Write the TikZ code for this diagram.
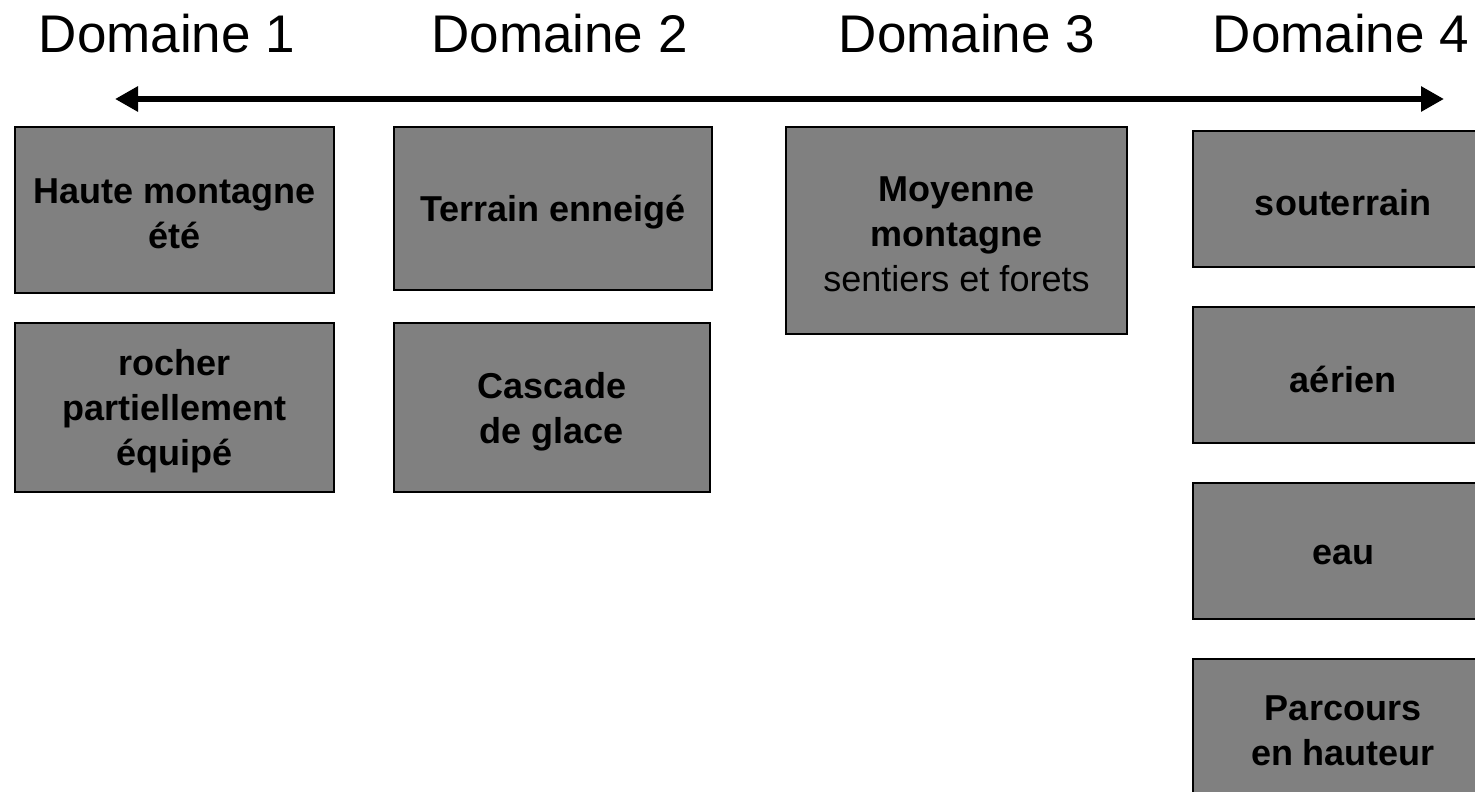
\documentclass[tikz,border=0pt]{standalone}
\usepackage{fontspec}
\setmainfont{Liberation Sans}
\usetikzlibrary{arrows.meta}
\definecolor{boxgray}{HTML}{808080}
\tikzset{
  domtitle/.style={anchor=base, inner sep=0pt, font=\fontsize{53}{60}\selectfont},
  graybox/.style={draw=black, line width=1.6pt, fill=boxgray, rectangle, inner sep=0pt},
  boxtext/.style={inner sep=0pt, align=center, yshift=-4pt, font=\fontsize{36}{45}\selectfont\bfseries},
  scalearrow/.style={line width=6pt, {Triangle[length=23pt,width=24pt]}-{Triangle[length=23pt,width=24pt]}}
}
\begin{document}
\begin{tikzpicture}[x=1pt,y=-1pt]
\useasboundingbox[fill=white] (0,0) rectangle (1475,792);
% titles
\node[domtitle] (d1) at (167,53) {Domaine 1};
\node[domtitle] (d2) at (559.5,53) {Domaine 2};
\node[domtitle] (d3) at (967,53) {Domaine 3};
\node[domtitle] (d4) at (1341,53) {Domaine 4};
% arrow
\coordinate (aL) at (115,99);
\coordinate (aR) at (1444,99);
\draw[scalearrow] (aL) -- (aR);
% boxes column 1
\node[graybox, minimum width=319pt, minimum height=166pt] (b1) at (174.5,210) {};
\node[boxtext] (t1) at (b1.center) {Haute montagne\\été};
\node[graybox, minimum width=319pt, minimum height=169pt] (b2) at (174.5,407.5) {};
\node[boxtext] (t2) at (b2.center) {rocher\\partiellement\\équipé};
% column 2
\node[graybox, minimum width=318pt, minimum height=163pt] (b3) at (553,208.5) {};
\node[boxtext] (t3) at (b3.center) {Terrain enneigé};
\node[graybox, minimum width=316pt, minimum height=169pt] (b4) at (552,407.5) {};
\node[boxtext] (t4) at (b4.center) {Cascade\\de glace};
% column 3
\node[graybox, minimum width=341pt, minimum height=207pt] (b5) at (956.5,230.5) {};
\node[boxtext] (t5) at (b5.center) {Moyenne\\montagne\\{\mdseries sentiers et forets}};
% column 4
\node[graybox, minimum width=300pt, minimum height=136pt] (b6) at (1343,199) {};
\node[boxtext] (t6) at (b6.center) {souterrain};
\node[graybox, minimum width=300pt, minimum height=136pt] (b7) at (1343,375) {};
\node[boxtext] (t7) at (b7.center) {aérien};
\node[graybox, minimum width=300pt, minimum height=136pt] (b8) at (1343,551) {};
\node[boxtext] (t8) at (b8.center) {eau};
\node[graybox, minimum width=300pt, minimum height=136pt] (b9) at (1343,727) {};
\node[boxtext] (t9) at (b9.center) {Parcours\\en hauteur};
\end{tikzpicture}
\end{document}
